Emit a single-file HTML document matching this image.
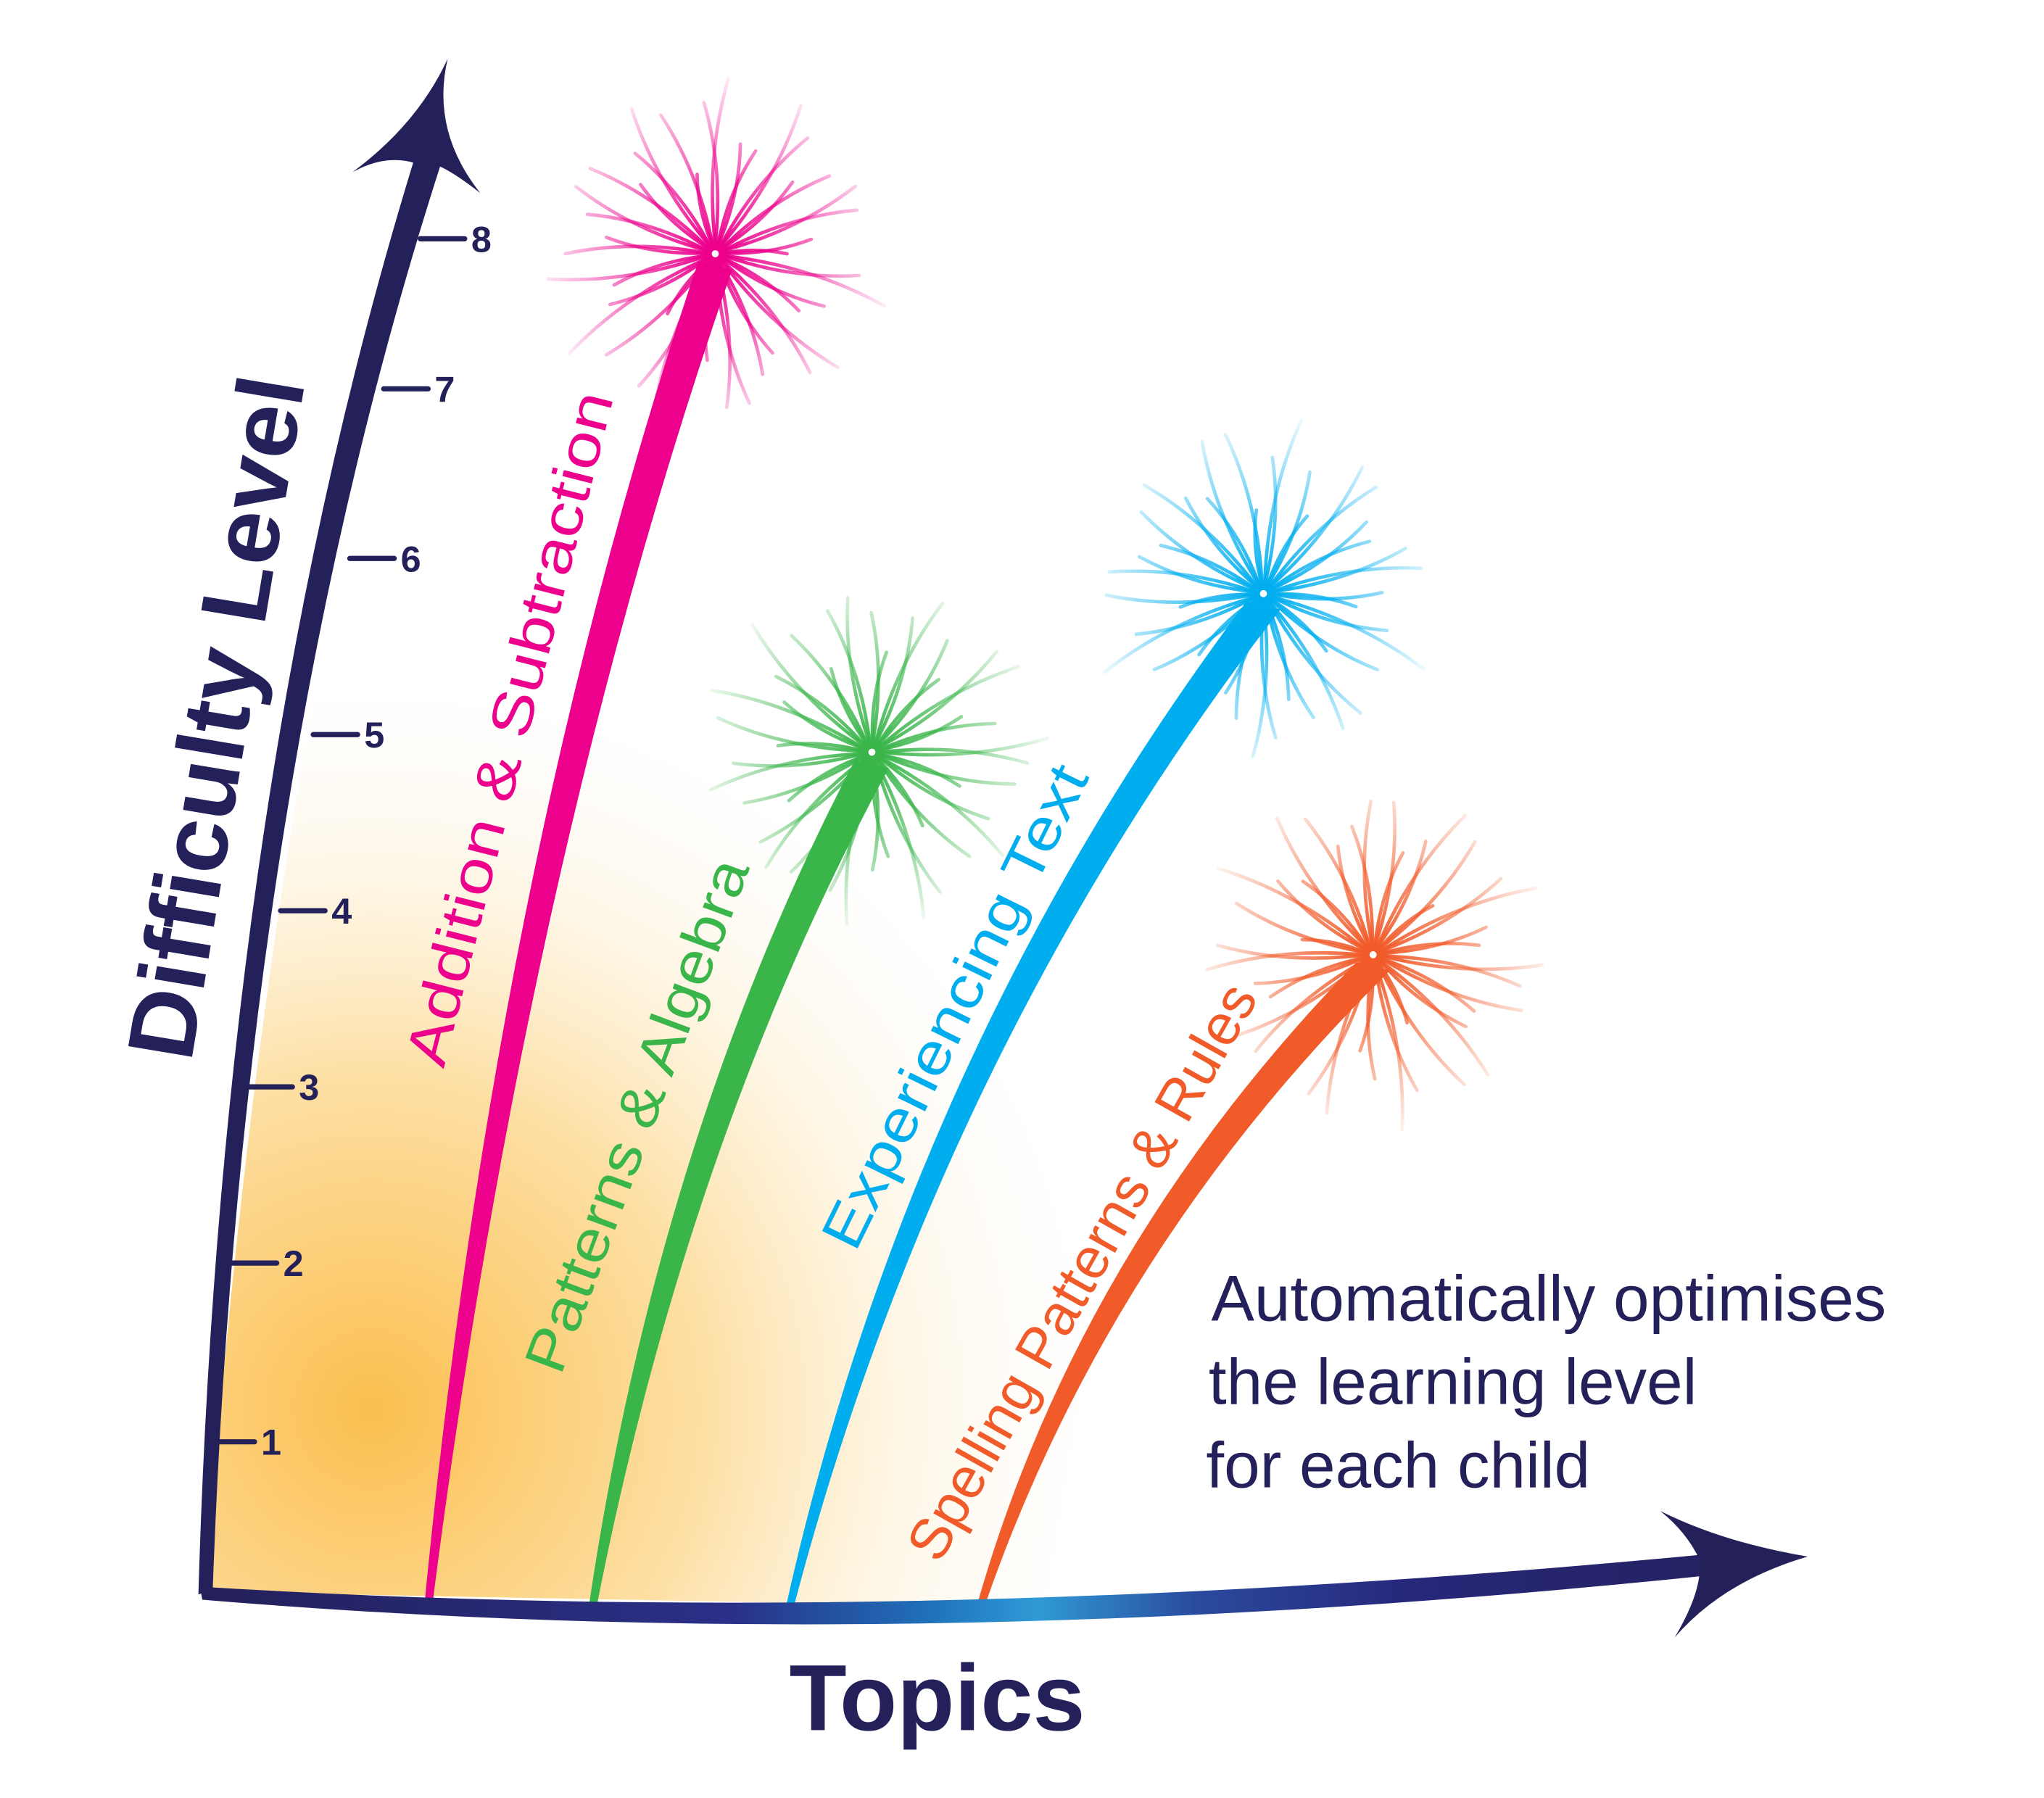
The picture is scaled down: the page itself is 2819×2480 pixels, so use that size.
<!DOCTYPE html>
<html><head><meta charset="utf-8"><style>
html,body{margin:0;padding:0;background:#fff}
svg{display:block}
text{font-family:"Liberation Sans",sans-serif}
</style></head><body>
<svg id="chart" width="2819" height="2480" viewBox="0 0 1566 1378" preserveAspectRatio="none" xmlns="http://www.w3.org/2000/svg">
<defs id="defs">
<radialGradient id="glow" cx="285" cy="1080" r="580" gradientUnits="userSpaceOnUse">
<stop offset="0" stop-color="#fbbf4f"/><stop offset="0.45" stop-color="#fde0a6"/><stop offset="1" stop-color="#fff" stop-opacity="0"/>
</radialGradient>
<linearGradient id="xaxisg" x1="155" x2="1385" y1="0" y2="0" gradientUnits="userSpaceOnUse">
<stop offset="0" stop-color="#24205a"/><stop offset="0.33" stop-color="#2a3088"/><stop offset="0.45" stop-color="#1f6fb8"/><stop offset="0.52" stop-color="#2f9ad6"/><stop offset="0.62" stop-color="#2a4a9e"/><stop offset="0.75" stop-color="#27287a"/><stop offset="1" stop-color="#24205a"/>
</linearGradient>
</defs>
<path d="M158 1220 Q200 600 345 60 L1000 60 L800 1232 Z" fill="url(#glow)"/>
<g id="streams"></g>
<g id="fireworks"></g>
<path d="M152 1222 Q170 600 318 120 L338 125 Q185 600 163 1218 Z" fill="#24205a"/>
<path d="M343 45 Q330 100 368 148 Q330 118 318 125 Q295 118 270 132 Q320 95 343 45 Z" fill="#24205a"/>
<g id="yticks"></g>
<text transform="translate(190,554) rotate(-80.5)" text-anchor="middle" font-size="72" font-weight="bold" fill="#24205a" textLength="529" lengthAdjust="spacingAndGlyphs">Difficulty Level</text>
<path d="M153 1216 Q700 1250 1320 1190 L1322 1206 Q700 1272 155 1226 Z" fill="url(#xaxisg)"/>
<path d="M1272 1158 Q1320 1182 1385 1193 Q1320 1212 1283 1255 Q1305 1218 1302 1195 Q1292 1174 1272 1158 Z" fill="#24205a"/>
<text x="718" y="1326" text-anchor="middle" font-size="72" font-weight="bold" fill="#24205a">Topics</text>
<text font-size="49.5" fill="#24205a">
<tspan x="928" y="1012">Automatically optimises</tspan>
<tspan x="926" y="1076">the learning level</tspan>
<tspan x="924" y="1140">for each child</tspan>
</text>
<g id="labels"></g>
</svg>
<script>
const topics=["Addition & Subtraction","Patterns & Algebra","Experiencing Text","Spelling Patterns & Rules"];
const topLevels=[7.9,4.9,5.8,3.75];
const colors=["#ec008c","#39b54a","#00aeef","#f15a29"];
const tickLevels=[1,2,3,4,5,6,7,8];
const tickLabels=["1","2","3","4","5","6","7","8"];
const NS="http://www.w3.org/2000/svg";
const tickY=[1105,968,833,698,563,428,298,183];
const tickX=[161,178,190,215,240,268,294,322];
function yScale(l){const i=Math.min(6,Math.max(0,Math.floor(l)-1));const f=l-(i+1);return tickY[i]+(tickY[i+1]-tickY[i])*f;}
function xAxisAt(l){const i=Math.min(6,Math.max(0,Math.floor(l)-1));const f=l-(i+1);return tickX[i]+(tickX[i+1]-tickX[i])*f;}
const baseX=[327,453,604,750];
const topX=[548,668,968,1052];
function el(tag,attrs,parent){const e=document.createElementNS(NS,tag);for(const k in attrs)e.setAttribute(k,attrs[k]);parent.appendChild(e);return e;}
const yt=document.getElementById('yticks');
tickLevels.forEach((l,i)=>{
  const y=yScale(l); const x=xAxisAt(l);
  const g=el('g',{},yt);
  
  
  el('line',{x1:x,y1:y,x2:x+34,y2:y,stroke:'#24205a','stroke-width':4,'stroke-linecap':'round'},g);
  const t=el('text',{x:x+39,y:y+10,'font-size':28,'font-weight':'bold',fill:'#24205a'},g);
  t.textContent=tickLabels[i];
});
const sg=document.getElementById('streams'),fg=document.getElementById('fireworks'),lg=document.getElementById('labels'),defs=document.getElementById('defs');
topics.forEach((name,i)=>{
  const x0=baseX[i],y0=1232,y1=yScale(topLevels[i]);
  const x1=topX[i];
  const cx=x0+(x1-x0)*0.28,cy=y0-(y0-y1)*0.55;
  const w=26;
  const p=el('path',{d:`M${x0-2} ${y0} Q${cx-w*0.35} ${cy} ${x1-w/2} ${y1+6} L${x1+w/2} ${y1+12} Q${cx+w*0.55} ${cy} ${x0+4} ${y0} Z`,fill:colors[i]},sg);
  
  
  const gr=el('radialGradient',{id:'fw'+i,cx:x1,cy:y1,r:135,gradientUnits:'userSpaceOnUse'},defs);
  el('stop',{offset:0,'stop-color':colors[i],'stop-opacity':1},gr);
  el('stop',{offset:0.4,'stop-color':colors[i],'stop-opacity':0.7},gr);
  el('stop',{offset:1,'stop-color':colors[i],'stop-opacity':0.08},gr);
  const fw=el('g',{},fg);
  
  
  const N=42;
  for(let k=0;k<N;k++){
    const a=k/N*Math.PI*2+0.07*i;
    const len=55+65*Math.abs(Math.sin(k*2.3+i*1.7))+(k%3)*8;
    const ex=x1+Math.cos(a)*len,ey=y1+Math.sin(a)*len;
    const bend=(k%2?1:-1)*0.18;
    const mx=x1+Math.cos(a+bend)*len*0.55,my=y1+Math.sin(a+bend)*len*0.55;
    el('path',{d:`M${x1+Math.cos(a)*4} ${y1+Math.sin(a)*4} Q${mx} ${my} ${ex} ${ey}`,stroke:`url(#fw${i})`,'stroke-width':2.6,'stroke-linecap':'round',fill:'none'},fw);
  }
});
const labelPos=[[405,562,-75.8],[502,860,-69.6],[745,778,-63.8],[842,982,-60.6]];
const labelLen=[531,416,407,499];
topics.forEach((name,i)=>{
  const [x,y,a]=labelPos[i];
  const t=el('text',{transform:`translate(${x},${y}) rotate(${a})`,'text-anchor':'middle','font-size':44,fill:colors[i],textLength:labelLen[i],lengthAdjust:'spacingAndGlyphs'},lg);
  
  
  t.textContent=name;
});
</script>
</body></html>
